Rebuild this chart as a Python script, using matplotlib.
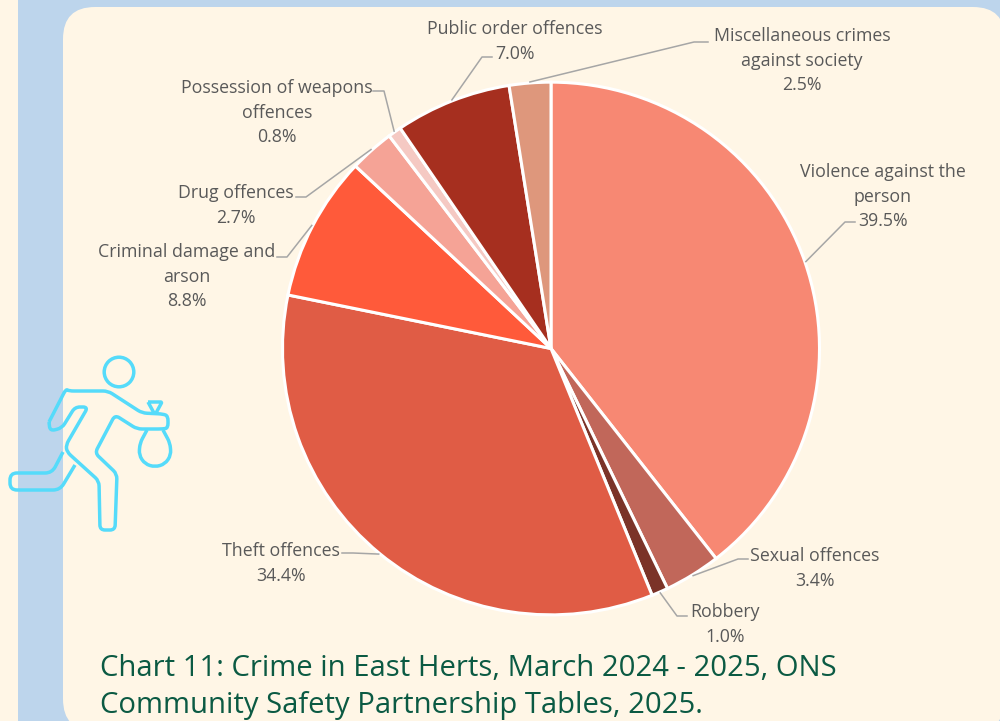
import numpy as np
import matplotlib
matplotlib.use('Agg')
import matplotlib.pyplot as plt
from matplotlib.patches import Rectangle, FancyBboxPatch, Circle, PathPatch
from matplotlib.path import Path
from matplotlib.transforms import Affine2D

categories = [
    'Violence against the\nperson', 'Sexual offences', 'Robbery', 'Theft offences',
    'Criminal damage and\narson', 'Drug offences', 'Possession of weapons\noffences',
    'Public order offences', 'Miscellaneous crimes\nagainst society',
]
values = [39.5, 3.4, 1.0, 34.4, 8.8, 2.7, 0.8, 7.0, 2.5]
colors = ['#F78873', '#C1675A', '#7B3328', '#E05C45', '#FF5A3A',
          '#F5A396', '#F5C9C3', '#A62F1F', '#DE977C']
title_lines = ['Chart 11: Crime in East Herts, March 2024 - 2025, ONS',
               'Community Safety Partnership Tables, 2025.']

CREAM = '#FFF6E6'
BLUE = '#BDD5EC'
CYAN = '#55DBFA'
H = 721
CENTER = (551, H - 348.5)
RADIUS = 268.5
SQUASH = 0.992  # the pie in the picture is a touch wider than tall

# label centre x, first line y, then the elbow of the leader and where it ends
label_layout = [
    (883, 171, (845, 222), (855, 222)),
    (815, 555, (738, 559), (748, 559)),
    (725, 611, (677, 616), (687, 616)),
    (281, 550, (353, 553), (342, 553)),
    (187, 251, (287, 257), (277, 257)),
    (236, 192, (306, 197), (296, 197)),
    (277, 87, (384, 91), (373, 91)),
    (515, 28, (482, 57), (492, 57)),
    (802, 35, (694, 42), (708, 42)),
]


def rounded_path(pts, r=3.0):
    # polyline with the corners eased, pts are (x, y) in pixels
    pts = np.array([(x, H - y) for x, y in pts], dtype=float)
    verts = [pts[0]]
    codes = [Path.MOVETO]
    for i in range(1, len(pts) - 1):
        p, a, b = pts[i], pts[i - 1], pts[i + 1]
        ra = min(r, np.linalg.norm(a - p) / 2)
        rb = min(r, np.linalg.norm(b - p) / 2)
        start = p + (a - p) / np.linalg.norm(a - p) * ra
        end = p + (b - p) / np.linalg.norm(b - p) * rb
        verts += [start, p, end]
        codes += [Path.LINETO, Path.CURVE3, Path.CURVE3]
    verts.append(pts[-1])
    codes.append(Path.LINETO)
    return Path(verts, codes)


def icon_line(ax, pts, r=3.0):
    path = rounded_path(pts, r)
    ax.add_patch(PathPatch(path, fill=False, ec=CYAN, lw=2.5, joinstyle='round',
                           capstyle='butt', zorder=4))


def draw_runner(ax):
    ax.add_patch(Circle((119, H - 372), 14.8, fill=False, ec=CYAN, lw=2.5, zorder=4))
    icon_line(ax, [(49, 422), (66, 389), (69, 391), (108, 391), (142, 413), (163, 414),
                   (168, 416), (168, 428), (163, 429), (137, 429), (115, 415),
                   (95, 453), (117, 474), (115, 530), (100, 530), (99, 481),
                   (67, 452), (66, 445), (88, 407), (75, 407), (62, 428), (50, 431), (49, 422)], r=5)
    icon_line(ax, [(63, 452), (52, 473), (10, 473), (10, 490), (60, 490), (75, 465)], r=7)
    icon_line(ax, [(148, 402), (162, 402), (156, 413), (154, 413), (148, 402)], r=1.5)
    icon_line(ax, [(147, 430), (140, 443), (139, 455), (145, 464), (155, 467), (165, 464),
                   (171, 455), (170, 443), (163, 430)], r=5)


def main():
    plt.rcParams['font.family'] = ['Open Sans', 'DejaVu Sans']
    fig = plt.figure(figsize=(10, 7.21), dpi=100, facecolor=CREAM)
    ax = fig.add_axes([0, 0, 1, 1])

    ax.add_patch(Rectangle((18, -10), 1000, H + 20, fc=BLUE, ec='none', zorder=0))
    ax.add_patch(FancyBboxPatch((95, 22), 878, H - 61,
                                boxstyle='round,pad=32,rounding_size=32', fc=CREAM, ec='none', zorder=1))

    wedges, _ = ax.pie(values, colors=colors, startangle=90, counterclock=False,
                       center=CENTER, radius=RADIUS, frame=True,
                       wedgeprops={'edgecolor': 'white', 'linewidth': 2.2, 'zorder': 2})
    ax.set_xlim(0, 1000)
    ax.set_ylim(0, H)
    ax.axis('off')

    squash = Affine2D().translate(0, -CENTER[1]).scale(1, SQUASH).translate(0, CENTER[1])
    for wedge in wedges:
        wedge.set_transform(squash + ax.transData)

    for wedge, name, val, layout in zip(wedges, categories, values, label_layout):
        tx, ty, elbow, end = layout
        mid = np.deg2rad((wedge.theta1 + wedge.theta2) / 2)
        rim = (CENTER[0] + (RADIUS + 1) * np.cos(mid),
               CENTER[1] + (RADIUS + 1) * SQUASH * np.sin(mid))
        ax.plot([rim[0], elbow[0], end[0]], [rim[1], H - elbow[1], H - end[1]],
                color='#A6A6A6', lw=1.1, zorder=3)
        ax.text(tx, H - ty + 8, f'{name}\n{val:.1f}%', ha='center', va='top',
                fontsize=12.8, color='#595959', linespacing=1.48, zorder=5)

    draw_runner(ax)

    ax.text(100, H - 668, title_lines[0], fontsize=21.05, color='#0B5A43', va='center', zorder=5)
    ax.text(100, H - 705, title_lines[1], fontsize=21.05, color='#0B5A43', va='center', zorder=5)

    fig.savefig('out.png', dpi=100, facecolor=CREAM)


if __name__ == '__main__':
    main()
